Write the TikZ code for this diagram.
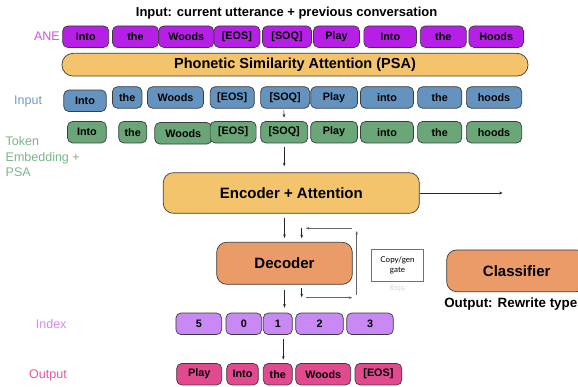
\documentclass[tikz,border=0pt]{standalone}
\usepackage{fontspec}
\setmainfont{Liberation Sans}
\newfontfamily\gillfont{Lato}
\usetikzlibrary{arrows.meta}
\definecolor{anefill}{RGB}{182,32,230}
\definecolor{anelab}{RGB}{212,80,240}
\definecolor{inpfill}{RGB}{100,147,191}
\definecolor{inplab}{RGB}{110,155,201}
\definecolor{tokfill}{RGB}{106,166,119}
\definecolor{toklab}{RGB}{125,182,138}
\definecolor{psafill}{RGB}{244,196,109}
\definecolor{decfill}{RGB}{235,155,104}
\definecolor{idxfill}{RGB}{200,137,245}
\definecolor{idxlab}{RGB}{208,140,240}
\definecolor{outfill}{RGB}{225,74,142}
\definecolor{outlab}{RGB}{232,85,154}
\definecolor{bordc}{RGB}{60,60,60}
\begin{document}
\begin{tikzpicture}[x=1pt,y=-1pt,
  tok/.style={draw=bordc, line width=0.7pt, rounded corners=5pt, inner sep=0pt,
    minimum height=21.5pt, font=\fontsize{10.8}{12}\selectfont\bfseries},
  big/.style={draw=bordc, line width=0.7pt, rounded corners=10pt, inner sep=0pt,
    font=\fontsize{15}{18}\selectfont\bfseries},
  lab/.style={font=\fontsize{12.5}{15.5}\selectfont, inner sep=0pt},
  arr/.style={-{Stealth[length=3.5pt,width=2.6pt]}, line width=0.6pt, draw=black!85},
  garr/.style={-{Stealth[length=3.5pt,width=2.6pt]}, line width=0.6pt, draw=black!60}]
\clip (0,0) rectangle (578,387);
\fill[white] (0,0) rectangle (578,387);

% title
\node[font=\fontsize{13}{15}\selectfont\bfseries, inner sep=0pt] (title) at (286.6,12.7) {Input: current utterance + previous conversation};

% ANE row
\node[lab, text=anelab, anchor=east] (laneane) at (60,36.7) {ANE};
\begin{scope}[every node/.style={tok, fill=anefill}]
\node[minimum width=46pt] (a1) at (85.7,36.7) {Into};
\node[minimum width=46pt] (a2) at (135.5,36.7) {the};
\node[minimum width=55pt] (a3) at (186.2,36.7) {Woods};
\node[minimum width=46pt] (a4) at (236.9,36.7) {[EOS]};
\node[minimum width=49pt] (a5) at (287,36.7) {[SOQ]};
\node[minimum width=46pt] (a6) at (336.4,36.7) {Play};
\node[minimum width=52.7pt] (a7) at (390.2,36.7) {Into};
\node[minimum width=46pt] (a8) at (443.3,36.7) {the};
\node[minimum width=54.5pt] (a9) at (496.2,36.7) {Hoods};
\end{scope}

% PSA bar
\node[big, fill=psafill, rounded corners=11pt, minimum width=466pt, minimum height=22.7pt,
  font=\fontsize{14.5}{17}\selectfont\bfseries] (psa) at (295,64.7) {Phonetic Similarity Attention (PSA)};

% Input row
\node[lab, text=inplab, anchor=west] (linput) at (14,101) {Input};
\begin{scope}[every node/.style={tok, fill=inpfill}]
\node[minimum width=42.4pt] (i1) at (85,100.8) {Into};
\node[minimum width=29.5pt] (i2) at (127.2,97.5) {the};
\node[minimum width=56pt] (i3) at (175.5,97.5) {Woods};
\node[minimum width=44.2pt] (i4) at (232.2,97.5) {[EOS]};
\node[minimum width=49pt] (i5) at (285.1,97.5) {[SOQ]};
\node[minimum width=46.8pt] (i6) at (334.1,97.5) {Play};
\node[minimum width=53pt] (i7) at (387,97.5) {into};
\node[minimum width=44.2pt] (i8) at (439.7,97.5) {the};
\node[minimum width=55.3pt] (i9) at (494,97.5) {hoods};
\end{scope}

% Token embedding row
\node[lab, text=toklab, anchor=north west, align=left] (ltok) at (5.5,136.5) {Token\\Embedding +\\PSA};
\begin{scope}[every node/.style={tok, fill=tokfill}]
\node[minimum width=38.7pt] (t1) at (86.9,132.2) {Into};
\node[minimum width=28pt] (t2) at (132.7,132.2) {the};
\node[minimum width=57pt] (t3) at (183.3,133.3) {Woods};
\node[minimum width=46pt] (t4) at (233.1,132.2) {[EOS]};
\node[minimum width=47pt] (t5) at (284.2,132.2) {[SOQ]};
\node[minimum width=46.8pt] (t6) at (334.1,132.2) {Play};
\node[minimum width=53pt] (t7) at (387,132.2) {into};
\node[minimum width=44.2pt] (t8) at (439.7,132.2) {the};
\node[minimum width=55.3pt] (t9) at (494,132.2) {hoods};
\end{scope}

% Encoder
\node[big, fill=psafill, minimum width=256pt, minimum height=40.6pt] (enc) at (291.3,193) {Encoder + Attention};
\coordinate (encout) at (502.7,193);

% Decoder
\node[big, fill=decfill, minimum width=135.6pt, minimum height=42pt] (dec) at (284.5,263.3) {Decoder};

% Copy/gen gate
\node[draw=black!55, line width=0.5pt, minimum width=51.6pt, minimum height=31.7pt, inner sep=0pt,
  align=center, font=\gillfont\fontsize{8}{10.5}\selectfont] (gate) at (397.5,265.2) {Copy/gen\\gate};
\node[text=black!15, inner sep=0pt, font=\gillfont\fontsize{8}{10}\selectfont] (gref) at (397.5,288.5) {\scalebox{1}[-1]{gate}};

% Classifier
\node[big, fill=decfill, minimum width=140pt, minimum height=41.7pt] (cls) at (516.7,270.8) {Classifier};
\node[font=\fontsize{13.4}{16}\selectfont\bfseries, inner sep=0pt] (clsout) at (510.8,304) {Output: Rewrite type};

% Index row
\node[lab, text=idxlab, anchor=west] (lidx) at (35.7,324.3) {Index};
\begin{scope}[every node/.style={tok, fill=idxfill}]
\node[minimum width=45.7pt] (x1) at (198.8,323.8) {5};
\node[minimum width=35.7pt] (x2) at (243.8,323.8) {0};
\node[minimum width=29pt] (x3) at (277.8,323.8) {1};
\node[minimum width=47.6pt] (x4) at (319.5,323.8) {2};
\node[minimum width=46.6pt] (x5) at (370,323.8) {3};
\end{scope}

% Output row
\node[lab, text=outlab, anchor=west] (lout) at (29,375) {Output};
\begin{scope}[every node/.style={tok, fill=outfill}]
\node[minimum width=45pt] (o1) at (199.2,374.2) {Play};
\node[minimum width=31.6pt] (o2) at (242.5,374.2) {Into};
\node[minimum width=29pt] (o3) at (277.8,374.2) {the};
\node[minimum width=55pt] (o4) at (323.2,374.2) {Woods};
\node[minimum width=46.7pt] (o5) at (378.4,374.2) {[EOS]};
\end{scope}

% helper coordinates
\coordinate (fbtop) at (356.7,231);
\coordinate (fbbot) at (356.7,295);
\coordinate (fbr) at (352.3,228.3);
\coordinate (fbl) at (305.7,228.3);
\coordinate (s1a) at (301.7,227.7);
\coordinate (s1b) at (301.7,238.3);
\coordinate (s2a) at (301.7,288.3);
\coordinate (s2b) at (301.7,297.3);
\coordinate (h2a) at (306,297.7);
\coordinate (h2b) at (352.3,297.7);

% connectors
\draw[arr, shorten <=1.5pt, shorten >=3.5pt] ([xshift=-1.3pt]i5.south) -- (t5.north);
\draw[arr, shorten <=3.5pt, shorten >=6pt] (t5.south) -- (t5.south |- enc.north);
\draw[arr] (enc.east) -- (encout);
\draw[arr, shorten <=4pt, shorten >=4pt] (dec.north |- enc.south) -- (dec.north);
\draw[arr] (s1a) -- (s1b);
\draw[garr] (fbbot) -- (fbtop);
\draw[garr] (fbr) -- (fbl);
\draw[arr, shorten <=5.5pt, shorten >=5pt] (dec.south) -- (dec.south |- x3.north);
\draw[arr] (s2a) -- (s2b);
\draw[garr] (h2a) -- (h2b);
\draw[arr, shorten <=4.5pt, shorten >=3.5pt] ([xshift=5.5pt]x3.south) -- ([xshift=5.5pt]o3.north);
\end{tikzpicture}
\end{document}
